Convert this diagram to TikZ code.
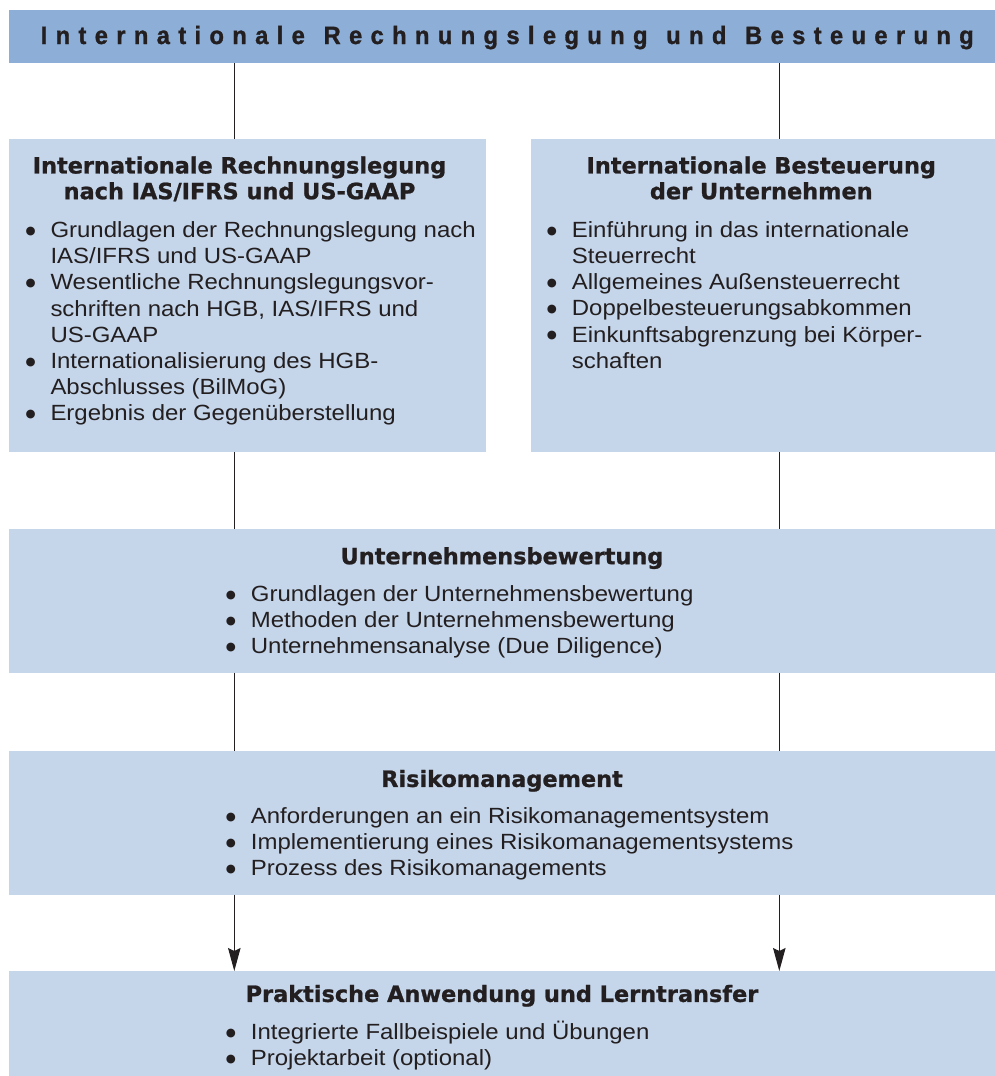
\documentclass[tikz,border=0pt]{standalone}
\usepackage{fontspec}
\setmainfont{Liberation Sans}
\newfontfamily\bodyfont{Liberation Sans}[FakeStretch=1.09]
\newfontfamily\headfont{DejaVu Sans}[FakeBold=1.0]
\newfontfamily\bulfont{DejaVu Sans}
\newfontfamily\titlefont{Liberation Sans}[FakeStretch=0.95,FakeBold=1.2]
\usetikzlibrary{arrows.meta}
\definecolor{barblue}{RGB}{141,174,214}
\definecolor{boxblue}{RGB}{197,213,234}
\definecolor{ink}{RGB}{35,31,32}
\ExplSyntaxOn
\NewDocumentCommand\spw{m}{\tl_map_inline:nn {#1} {##1\hfil}}
\ExplSyntaxOff
\newcommand\wgap{\hskip 2pt plus 1fil}
\newcommand\bul{\makebox[25pt][l]{\smash{\raisebox{3.2pt}{\bulfont\fontsize{11.5}{12}\selectfont ●}}}}
\newcommand\ind{\hspace*{25pt}}
\tikzset{
  box/.style={fill=boxblue, draw=none, inner sep=0pt, anchor=north west},
  barbox/.style={fill=barblue, draw=none, inner sep=0pt, anchor=north west},
  head/.style={font=\headfont\bfseries\fontsize{22.4}{25.7}\selectfont, text=ink, inner sep=0pt, align=center, anchor=north},
  blist/.style={font=\bodyfont\fontsize{22}{26.2}\selectfont, text=ink, inner sep=0pt, align=left, anchor=north west},
  conn/.style={draw=ink, line width=1pt},
  arr/.style={conn, -{Stealth[length=23pt,width=12.5pt,inset=3pt]}}
}
\begin{document}
\begin{tikzpicture}[x=1pt,y=-1pt]
\useasboundingbox (0,0) rectangle (995,1076);
% boxes
\node[barbox, minimum width=986pt, minimum height=52.7pt] (bar) at (9,10) {};
\node[box, minimum width=477pt, minimum height=312.7pt] (lbox) at (9,139) {};
\node[box, minimum width=464pt, minimum height=312.7pt] (rbox) at (531,139) {};
\node[box, minimum width=986pt, minimum height=143.3pt] (ubox) at (9,529) {};
\node[box, minimum width=986pt, minimum height=143.3pt] (rmbox) at (9,751) {};
\node[box, minimum width=986pt, minimum height=105pt] (pbox) at (9,971) {};
% title
\node[anchor=base west, inner sep=0pt, text=ink, font=\titlefont\bfseries\fontsize{25}{30}\selectfont] (title) at (40.5,44)
  {\hbox to 933pt{\spw{Internationale}\wgap\spw{Rechnungslegung}\wgap\spw{und}\wgap\spw{Besteuerung}\unskip}};
% headings
\node[head] (lhead) at (239.5,155.3) {\strut Internationale Rechnungslegung\\nach IAS/IFRS und US-GAAP};
\node[head] (rhead) at (761.3,155.3) {\strut Internationale Besteuerung\\der Unternehmen};
\node[head] (uhead) at (502,546.0) {\strut Unternehmensbewertung};
\node[head] (rmhead) at (502,768.7) {\strut Risikomanagement};
\node[head] (phead) at (502,983.7) {\strut Praktische Anwendung und Lerntransfer};
% lists
\node[blist] (llist) at (25.3,219.0) {\strut\bul Grundlagen der Rechnungslegung nach\\
\ind IAS/IFRS und US-GAAP\\
\bul Wesentliche Rechnungslegungsvor-\\
\ind schriften nach HGB, IAS/IFRS und\\
\ind US-GAAP\\
\bul Internationalisierung des HGB-\\
\ind Abschlusses (BilMoG)\\
\bul Ergebnis der Gegenüberstellung};
\node[blist] (rlist) at (546.7,218.7) {\strut\bul Einführung in das internationale\\
\ind Steuerrecht\\
\bul Allgemeines Außensteuerrecht\\
\bul Doppelbesteuerungsabkommen\\
\bul Einkunftsabgrenzung bei Körper-\\
\ind schaften};
\node[blist] (ulist) at (225.7,582.7) {\strut\bul Grundlagen der Unternehmensbewertung\\
\bul Methoden der Unternehmensbewertung\\
\bul Unternehmensanalyse (Due Diligence)};
\node[blist] (rmlist) at (225.7,805.0) {\strut\bul Anforderungen an ein Risikomanagementsystem\\
\bul Implementierung eines Risikomanagementsystems\\
\bul Prozess des Risikomanagements};
\node[blist] (plist) at (225.7,1021.0) {\strut\bul Integrierte Fallbeispiele und Übungen\\
\bul Projektarbeit (optional)};
% connectors
\coordinate (xL) at (234.3,0);
\coordinate (xR) at (779.3,0);
\draw[conn] (bar.south -| xL) -- (lbox.north -| xL);
\draw[conn] (bar.south -| xR) -- (rbox.north -| xR);
\draw[conn] (lbox.south -| xL) -- (ubox.north -| xL);
\draw[conn] (rbox.south -| xR) -- (ubox.north -| xR);
\draw[conn] (ubox.south -| xL) -- (rmbox.north -| xL);
\draw[conn] (ubox.south -| xR) -- (rmbox.north -| xR);
\draw[arr] (rmbox.south -| xL) -- (pbox.north -| xL);
\draw[arr] (rmbox.south -| xR) -- (pbox.north -| xR);
\end{tikzpicture}
\end{document}
